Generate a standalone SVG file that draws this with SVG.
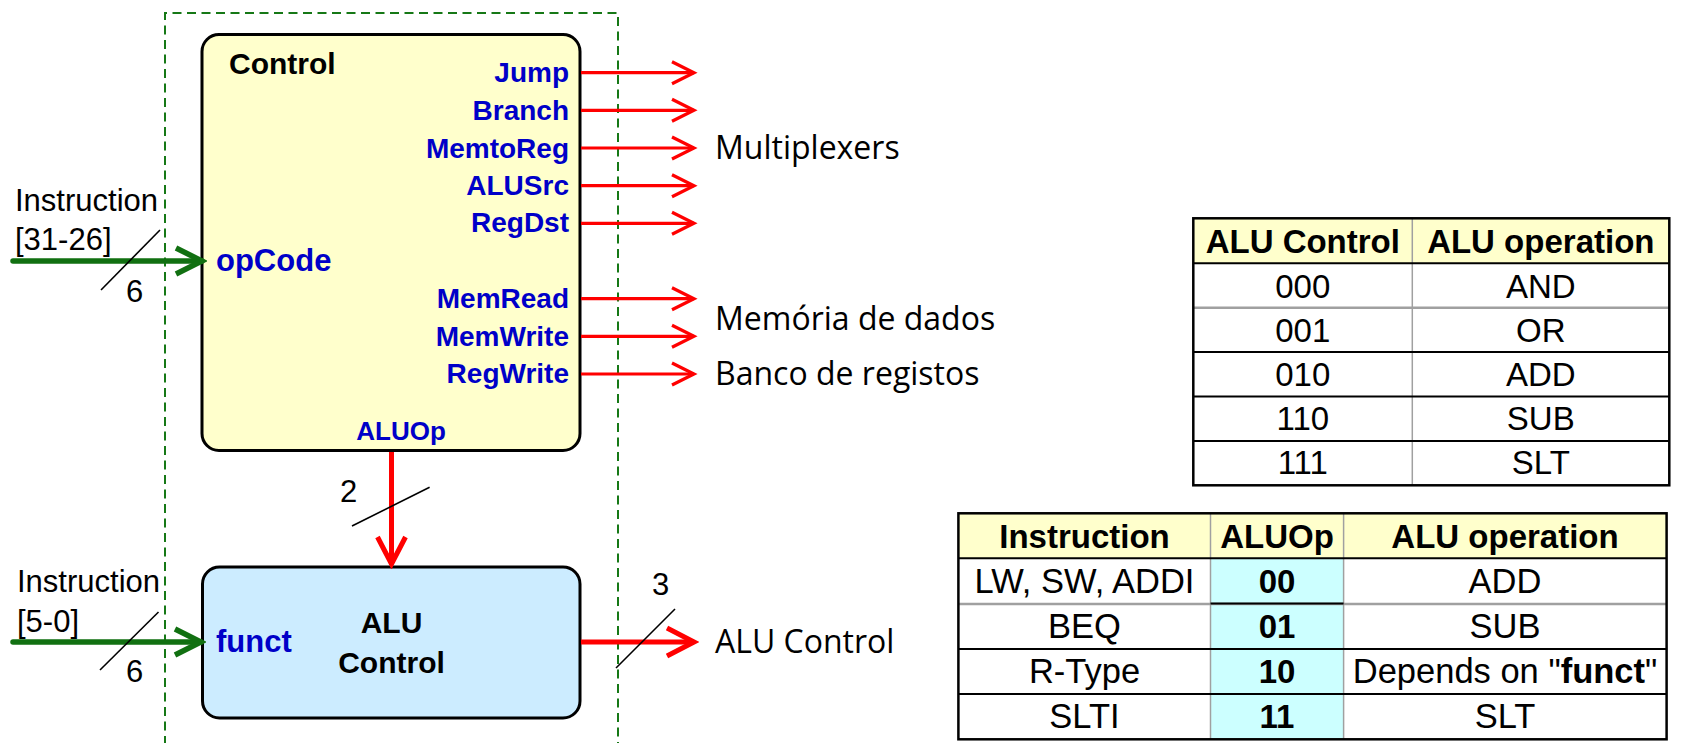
<svg xmlns="http://www.w3.org/2000/svg" width="1682" height="743" viewBox="0 0 1682 743">
<style>
.box{stroke:#000;stroke-width:3}
.sig{fill:#0000C8;font-family:"Liberation Sans",Arial,sans-serif;font-weight:bold;font-size:28px;text-anchor:end}
.blk{fill:#000;font-family:"Liberation Sans",Arial,sans-serif;font-weight:bold;font-size:30px}
.lbl{fill:#000;font-family:"Liberation Sans",Arial,sans-serif;font-size:31px}
.out{fill:#000;font-family:"Open Sans","Noto Sans",sans-serif;font-size:32px}
.red{stroke:#FF0000;stroke-width:3.2;fill:none}
.redT{stroke:#FF0000;stroke-width:5;fill:none}
.grn{stroke:#117011;stroke-width:5.5;fill:none}
.slash{stroke:#000;stroke-width:1.6}
.tb{font-family:"Liberation Sans",Arial,sans-serif;font-size:33px;text-anchor:middle;fill:#000}
.tb2{font-family:"Liberation Sans",Arial,sans-serif;font-size:34.5px;text-anchor:middle;fill:#000}
.th{font-family:"Liberation Sans",Arial,sans-serif;font-size:33px;font-weight:bold;text-anchor:middle;fill:#000}
.gl{stroke:#A0A0A0;stroke-width:1.5}
.bl{stroke:#000;stroke-width:2}
</style>
<defs>
<marker id="aR" markerUnits="userSpaceOnUse" markerWidth="30" markerHeight="30" viewBox="0 0 30 30" refX="26" refY="15" orient="auto">
<path d="M4,4 L26,15 L4,26" fill="none" stroke="#FF0000" stroke-width="3.2"/>
</marker>
<marker id="aRT" markerUnits="userSpaceOnUse" markerWidth="36" markerHeight="36" viewBox="0 0 36 36" refX="31" refY="18" orient="auto">
<path d="M4,4 L31,18 L4,32" fill="none" stroke="#FF0000" stroke-width="5"/>
</marker>
<marker id="aG" markerUnits="userSpaceOnUse" markerWidth="36" markerHeight="36" viewBox="0 0 36 36" refX="31" refY="18" orient="auto">
<path d="M5,5 L31,18 L5,31" fill="none" stroke="#117011" stroke-width="5.5"/>
</marker>
</defs>
<rect width="1682" height="743" fill="#fff"/>

<path id="boundary" d="M165,745 V13 H618 V745" fill="none" stroke="#167816" stroke-width="2" stroke-dasharray="9,5.5"/>

<g id="control">
<rect class="box" x="202" y="34.5" width="378" height="416" rx="17" fill="#FFFFCC"/>
<text class="blk" x="229" y="74">Control</text>
<text class="sig" x="569" y="82">Jump</text>
<text class="sig" x="569" y="120">Branch</text>
<text class="sig" x="569" y="158">MemtoReg</text>
<text class="sig" x="569" y="195">ALUSrc</text>
<text class="sig" x="569" y="232">RegDst</text>
<text class="sig" x="569" y="308">MemRead</text>
<text class="sig" x="569" y="346">MemWrite</text>
<text class="sig" x="569" y="383">RegWrite</text>
<text class="sig" x="401" y="440" style="text-anchor:middle;font-size:26px">ALUOp</text>
<text class="sig" x="216" y="271" style="text-anchor:start;font-size:31px">opCode</text>
</g>

<g id="alucontrol">
<rect class="box" x="202.5" y="567" width="377.5" height="151" rx="17" fill="#CCECFF"/>
<text class="blk" x="391.5" y="633" text-anchor="middle">ALU</text>
<text class="blk" x="391.5" y="673" text-anchor="middle">Control</text>
<text class="sig" x="216" y="652" style="text-anchor:start;font-size:31px">funct</text>
</g>

<g id="connectors">
<line class="red" x1="581" y1="72.7" x2="694" y2="72.7" marker-end="url(#aR)"/>
<line class="red" x1="581" y1="110.3" x2="694" y2="110.3" marker-end="url(#aR)"/>
<line class="red" x1="581" y1="148" x2="694" y2="148" marker-end="url(#aR)"/>
<line class="red" x1="581" y1="185.7" x2="694" y2="185.7" marker-end="url(#aR)"/>
<line class="red" x1="581" y1="223.3" x2="694" y2="223.3" marker-end="url(#aR)"/>
<line class="red" x1="581" y1="298.7" x2="694" y2="298.7" marker-end="url(#aR)"/>
<line class="red" x1="581" y1="336.3" x2="694" y2="336.3" marker-end="url(#aR)"/>
<line class="red" x1="581" y1="374" x2="694" y2="374" marker-end="url(#aR)"/>
<line class="redT" x1="391.5" y1="452" x2="391.5" y2="564" marker-end="url(#aRT)"/>
<line class="redT" x1="581" y1="642" x2="694" y2="642" marker-end="url(#aRT)"/>
<line class="grn" x1="13" y1="261" x2="202" y2="261" stroke-linecap="round" marker-end="url(#aG)"/>
<line class="grn" x1="13" y1="642" x2="201" y2="642" stroke-linecap="round" marker-end="url(#aG)"/>
<line class="slash" x1="101" y1="290" x2="160" y2="230"/>
<line class="slash" x1="100" y1="670" x2="158.5" y2="612"/>
<line class="slash" x1="352" y1="526" x2="429.6" y2="487.3"/>
<line class="slash" x1="616" y1="668" x2="675" y2="609"/>
</g>

<g id="labels">
<text class="lbl" x="15" y="211">Instruction</text>
<text class="lbl" x="15" y="250">[31-26]</text>
<text class="lbl" x="126" y="302">6</text>
<text class="lbl" x="17" y="592">Instruction</text>
<text class="lbl" x="17" y="632">[5-0]</text>
<text class="lbl" x="126" y="682">6</text>
<text class="lbl" x="340" y="502">2</text>
<text class="lbl" x="652" y="595">3</text>
<text class="out" x="715" y="159">Multiplexers</text>
<text class="out" x="715" y="330">Memória de dados</text>
<text class="out" x="715" y="385">Banco de registos</text>
<text class="out" x="715" y="653">ALU Control</text>
</g>

<g id="table1">
<rect x="1193.3" y="218.3" width="476" height="45" fill="#FFFFCC"/>
<line class="gl" x1="1412.3" y1="218.3" x2="1412.3" y2="485.3"/>
<line class="bl" x1="1193.3" y1="263.3" x2="1669.3" y2="263.3"/>
<line class="gl" x1="1193.3" y1="307.7" x2="1669.3" y2="307.7" style="stroke-width:2.5"/>
<line class="bl" x1="1193.3" y1="352.1" x2="1669.3" y2="352.1"/>
<line class="bl" x1="1193.3" y1="396.5" x2="1669.3" y2="396.5"/>
<line class="bl" x1="1193.3" y1="440.9" x2="1669.3" y2="440.9"/>
<rect x="1193.3" y="218.3" width="476" height="267" fill="none" stroke="#000" stroke-width="2.5"/>
<text class="th" x="1302.8" y="253">ALU Control</text>
<text class="th" x="1540.8" y="253">ALU operation</text>
<text class="tb" x="1302.8" y="298">000</text>
<text class="tb" x="1540.8" y="298">AND</text>
<text class="tb" x="1302.8" y="342">001</text>
<text class="tb" x="1540.8" y="342">OR</text>
<text class="tb" x="1302.8" y="386">010</text>
<text class="tb" x="1540.8" y="386">ADD</text>
<text class="tb" x="1302.8" y="430">110</text>
<text class="tb" x="1540.8" y="430">SUB</text>
<text class="tb" x="1302.8" y="474">111</text>
<text class="tb" x="1540.8" y="474">SLT</text>
</g>

<g id="table2">
<rect x="958.4" y="513.3" width="708.2" height="45" fill="#FFFFCC"/>
<rect x="1210.5" y="558.3" width="133.1" height="181" fill="#CCFFFF"/>
<line class="gl" x1="1210.5" y1="513.3" x2="1210.5" y2="739.3"/>
<line class="gl" x1="1343.6" y1="513.3" x2="1343.6" y2="739.3"/>
<line class="bl" x1="958.4" y1="558.3" x2="1666.6" y2="558.3"/>
<line class="gl" x1="958.4" y1="604" x2="1666.6" y2="604" style="stroke-width:2.5"/>
<line class="bl" x1="1210.5" y1="603.5" x2="1343.6" y2="603.5"/>
<line class="bl" x1="958.4" y1="649" x2="1666.6" y2="649"/>
<line class="bl" x1="958.4" y1="694" x2="1666.6" y2="694"/>
<rect x="958.4" y="513.3" width="708.2" height="226" fill="none" stroke="#000" stroke-width="2.5"/>
<text class="th" x="1084.5" y="548.3">Instruction</text>
<text class="th" x="1277" y="548.3">ALUOp</text>
<text class="th" x="1505" y="548.3">ALU operation</text>
<text class="tb2" x="1084.5" y="593.3">LW, SW, ADDI</text>
<text class="th" x="1277" y="593.3">00</text>
<text class="tb2" x="1505" y="593.3">ADD</text>
<text class="tb2" x="1084.5" y="638.3">BEQ</text>
<text class="th" x="1277" y="638.3">01</text>
<text class="tb2" x="1505" y="638.3">SUB</text>
<text class="tb2" x="1084.5" y="683.3">R-Type</text>
<text class="th" x="1277" y="683.3">10</text>
<text class="tb2" x="1505" y="683.3">Depends on "<tspan font-weight="bold">funct</tspan>"</text>
<text class="tb2" x="1084.5" y="728.3">SLTI</text>
<text class="th" x="1277" y="728.3">11</text>
<text class="tb2" x="1505" y="728.3">SLT</text>
</g>
</svg>
